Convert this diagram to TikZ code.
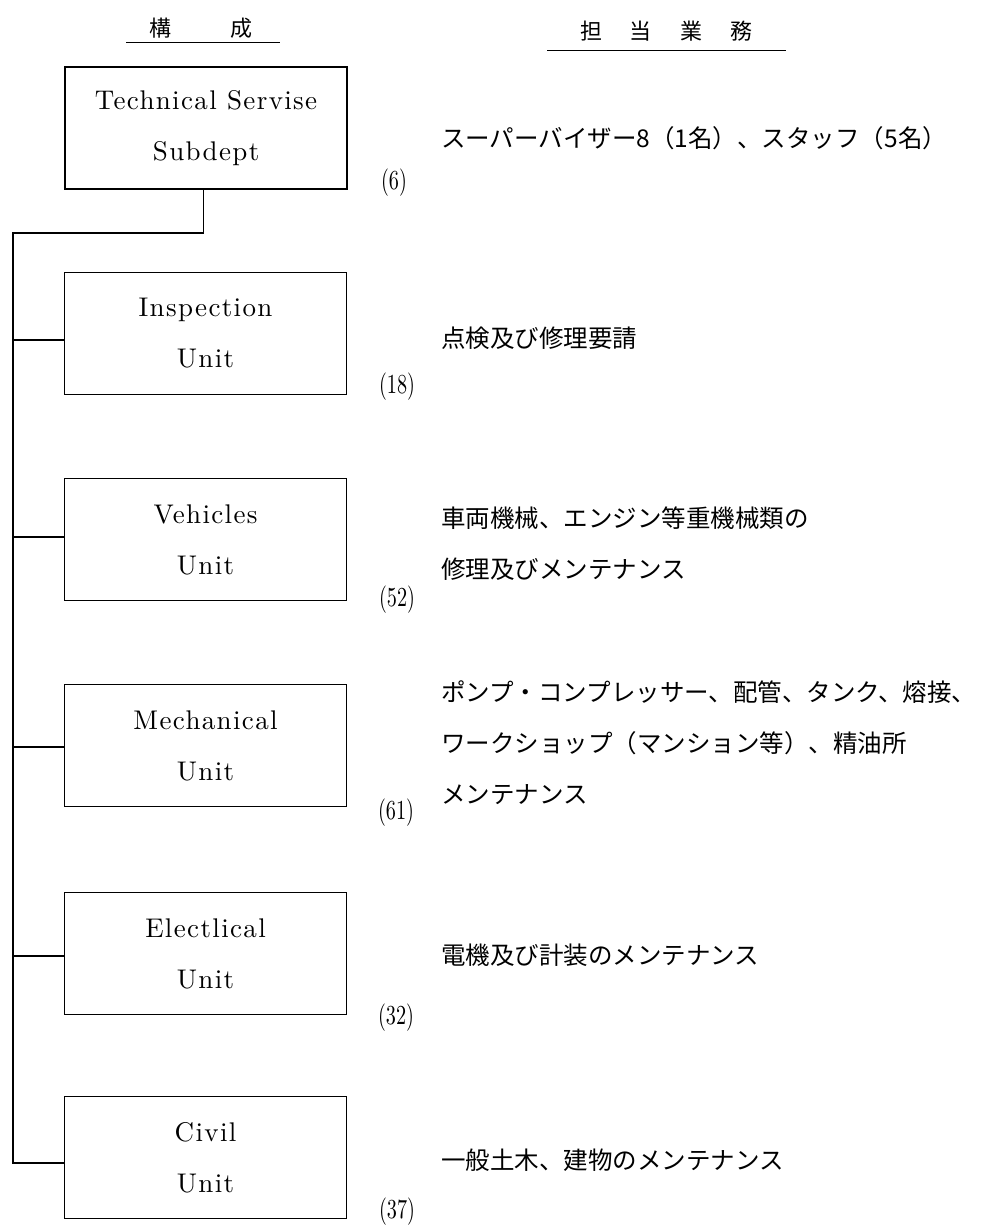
\documentclass[tikz,border=0pt]{standalone}
\usepackage{fontspec}
\newfontfamily\jp{Noto Sans CJK JP}
\newfontfamily\lmten{lmroman10-regular}[Extension=.otf]
\newfontfamily\lmspaced{lmroman10-regular}[Extension=.otf, LetterSpace=5]
\newcommand\boxfont{\lmspaced\fontsize{27}{51}\selectfont}
\newcommand\numfont{\lmten\fontsize{22}{26}\selectfont}
\newcommand\dutyfont{\jp\fontsize{24.5}{51}\selectfont}
\newcommand\headfont{\jp\fontsize{22}{26}\selectfont}
\newcommand\tallnum[1]{\scalebox{0.92}[1.25]{#1}}
\begin{document}
\begin{tikzpicture}[x=1pt,y=-1pt,
  unit/.style={draw, line width=1.1pt, minimum width=282pt, minimum height=122pt,
    inner sep=0pt, anchor=north west, align=center, font=\boxfont},
  topunit/.style={unit, line width=2.2pt},
  num/.style={font=\numfont, inner sep=0pt},
  duty/.style={font=\dutyfont, align=left, anchor=west, inner sep=0pt},
  head/.style={font=\headfont, inner sep=0pt},
  conn/.style={line width=1.1pt},
  rule/.style={line width=1pt}]
\fill[white] (0,0) rectangle (982,1230);
\useasboundingbox (0,0) rectangle (982,1230);

% headers
\node[head] (h1) at (201,28) {構\hspace{60pt}成};
\draw[rule] (126,43) -- (280,43);
\node[head] (h2) at (666,31) {担\hspace{28pt}当\hspace{28pt}業\hspace{28pt}務};
\draw[rule] (547,51) -- (786,51);

% boxes
\node[topunit] (top) at (64,66) {Technical Servise\\Subdept};
\node[unit] (insp) at (64,272) {Inspection\\Unit};
\node[unit] (veh) at (64,478) {Vehicles\\Unit};
\node[unit] (mech) at (64,684) {Mechanical\\Unit};
\node[unit] (elec) at (64,892) {Electlical\\Unit};
\node[unit] (civ) at (64,1096) {Civil\\Unit};

% numbers
\node[num] (n0) at (394,183) {\tallnum{(6)}};
\node[num] (n1) at (397,387) {\tallnum{(18)}};
\node[num] (n2) at (397,600) {\tallnum{(52)}};
\node[num] (n3) at (396,813) {\tallnum{(61)}};
\node[num] (n4) at (396,1018) {\tallnum{(32)}};
\node[num] (n5) at (397,1212) {\tallnum{(37)}};

% duties
\node[duty] (d0) at (441,138) {スーパーバイザー8（1名）、スタッフ（5名）};
\node[duty] (d1) at (441,338) {点検及び修理要請};
\node[duty] (d2) at (441,544) {車両機械、エンジン等重機械類の\\修理及びメンテナンス};
\node[duty] (d3) at (441,743) {ポンプ・コンプレッサー、配管、タンク、熔接、\\ワークショップ（マンション等）、精油所\\メンテナンス};
\node[duty] (d4) at (441,955) {電機及び計装のメンテナンス};
\node[duty] (d5) at (441,1160) {一般土木、建物のメンテナンス};

% connectors
\coordinate (j0) at (13,233);
\coordinate (j1) at (13,340);
\coordinate (j2) at (13,537);
\coordinate (j3) at (13,747);
\coordinate (j4) at (13,956);
\coordinate (j5) at (13,1163);
\draw[conn] ([xshift=-3pt]top.south) |- (j0) -- (j5) -- (j5 -| civ.west);
\draw[conn] (j1) -- (j1 -| insp.west);
\draw[conn] (j2) -- (j2 -| veh.west);
\draw[conn] (j3) -- (j3 -| mech.west);
\draw[conn] (j4) -- (j4 -| elec.west);
\end{tikzpicture}
\end{document}
